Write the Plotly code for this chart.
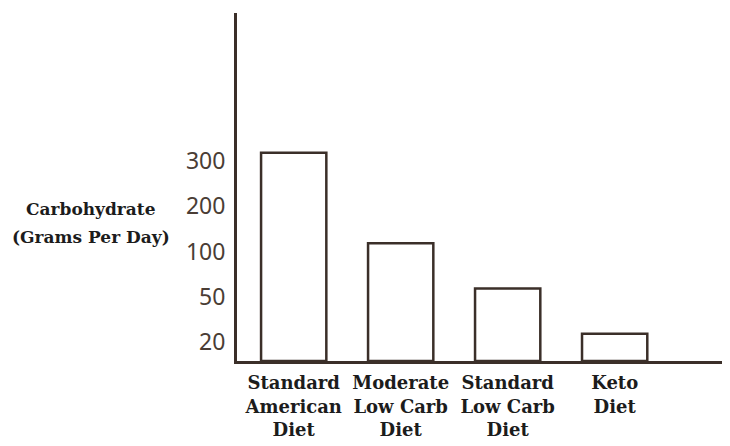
import numpy as np
import plotly.graph_objects as go

# ---- data ----
categories = ["Standard<br>American<br>Diet", "Moderate<br>Low Carb<br>Diet",
              "Standard<br>Low Carb<br>Diet", "Keto<br>Diet"]
carbs_g_per_day = [300, 100, 50, 20]
tick_values = [20, 50, 100, 200, 300]
tick_labels = ["20", "50", "100", "200", "300"]
y_title_lines = ["Carbohydrate", "(Grams Per Day)"]

# ---- hand-drawn, evenly spaced (ordinal) y scale ----
BASE = 0.40                       # level of the baseline (0 g)
scale_in = [0] + tick_values
scale_out = [BASE] + list(range(1, len(tick_values) + 1))
levels = np.interp(carbs_g_per_day, scale_in, scale_out)
tick_pos = np.interp(tick_values, scale_in, scale_out) - 0.18

INK = "#3b2f29"

fig = go.Figure(go.Bar(
    x=list(range(len(categories))),
    y=levels - BASE,
    base=BASE,
    width=0.61,
    marker=dict(color="rgba(255,255,255,0)", line=dict(color=INK, width=2.5)),
    hoverinfo="skip",
))

fig.update_layout(
    width=722, height=438,
    margin=dict(l=229, r=3, t=5, b=85),
    paper_bgcolor="white", plot_bgcolor="white",
    showlegend=False,
    xaxis=dict(
        range=[-0.53, 4.05], automargin=False,
        tickmode="array", tickvals=list(range(len(categories))), ticktext=categories,
        showgrid=False, zeroline=False, ticks="",
        showline=True, linecolor=INK, linewidth=2.5,
        tickfont=dict(family="DejaVu Serif", size=18, color="#1c1c1c", weight="bold"),
        ticklabelstandoff=4,
    ),
    yaxis=dict(
        range=[BASE, 8.09], automargin=False,
        tickmode="array", tickvals=list(tick_pos), ticktext=tick_labels,
        showgrid=False, zeroline=False, ticks="",
        showline=True, linecolor=INK, linewidth=3,
        tickfont=dict(family="Noto Sans", size=23, color="#4a3d35"),
        ticklabelstandoff=4,
    ),
)

for i, line in enumerate(y_title_lines):
    fig.add_annotation(
        text=line, xref="paper", yref="paper",
        x=-0.297, y=0.436 - i * 0.081,
        xanchor="center", yanchor="middle", showarrow=False,
        font=dict(family="DejaVu Serif", size=17, color="#1c1c1c", weight="bold"),
    )

fig.write_html("out.html")
